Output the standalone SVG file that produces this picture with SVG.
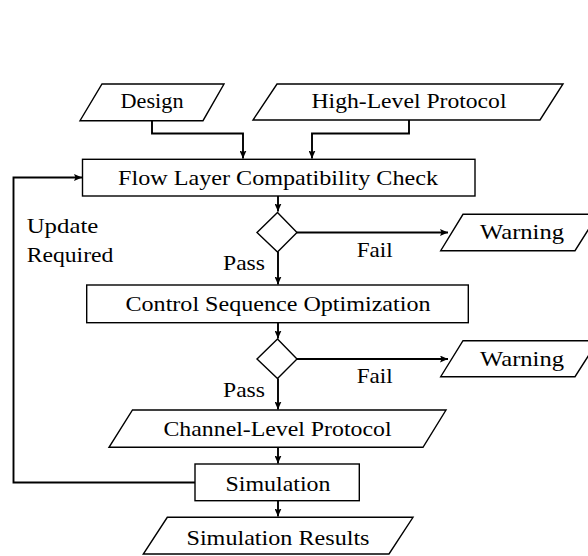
<svg xmlns="http://www.w3.org/2000/svg" width="588" height="556" viewBox="0 0 588 556">
<style>
.shape{fill:#fff;stroke:#000;stroke-width:1.4}
.conn{fill:none;stroke:#000;stroke-width:1.9}
text{font-family:"Liberation Serif","Times New Roman",serif;font-size:22px;fill:#000}
.c{text-anchor:middle}
</style>
<defs>
<marker id="ah" markerUnits="userSpaceOnUse" markerWidth="9" markerHeight="7" refX="8" refY="3.5" orient="auto">
<path d="M0,0 L8,3.5 L0,7 L1.5,3.5 z" fill="#000"/>
</marker>
</defs>
<rect width="588" height="556" fill="#fff"/>
<g id="connectors">
<path class="conn" d="M152,121 V133.5 H243 V158.5" marker-end="url(#ah)"/>
<path class="conn" d="M409,120 V133.5 H312 V158.5" marker-end="url(#ah)"/>
<path class="conn" d="M278,196 V211.5" marker-end="url(#ah)"/>
<path class="conn" d="M278,252 V284.5" marker-end="url(#ah)"/>
<path class="conn" d="M297,232.5 H448" marker-end="url(#ah)"/>
<path class="conn" d="M278,323 V338.5" marker-end="url(#ah)"/>
<path class="conn" d="M278,378.5 V409.5" marker-end="url(#ah)"/>
<path class="conn" d="M297,359 H448" marker-end="url(#ah)"/>
<path class="conn" d="M278,447.5 V463.5" marker-end="url(#ah)"/>
<path class="conn" d="M278,501 V516.5" marker-end="url(#ah)"/>
<path class="conn" d="M195,482.5 H13.5 V177.5 H82" marker-end="url(#ah)"/>
</g>
<g id="labels">
<text class="c" x="374.7" y="256.7" textLength="36" lengthAdjust="spacingAndGlyphs">Fail</text>
<text class="c" x="244" y="270" textLength="42" lengthAdjust="spacingAndGlyphs">Pass</text>
<text class="c" x="374.7" y="383.3" textLength="36" lengthAdjust="spacingAndGlyphs">Fail</text>
<text class="c" x="244" y="397.3" textLength="42" lengthAdjust="spacingAndGlyphs">Pass</text>
<text x="26.7" y="233.3" textLength="71.6" lengthAdjust="spacingAndGlyphs">Update</text>
<text x="26.7" y="261.7" textLength="86.7" lengthAdjust="spacingAndGlyphs">Required</text>
</g>
<g id="design">
<polygon class="shape" points="102,84 224,84 203,120.7 80,120.7"/>
<text class="c" x="152" y="107.5" textLength="63" lengthAdjust="spacingAndGlyphs">Design</text>
</g>
<g id="high-level-protocol">
<polygon class="shape" points="277,84 563,84 540,120 253,120"/>
<text class="c" x="409" y="107.5" textLength="195" lengthAdjust="spacingAndGlyphs">High-Level Protocol</text>
</g>
<g id="flow-check">
<rect class="shape" x="82.5" y="159.3" width="392.5" height="36.7"/>
<text class="c" x="278" y="185" textLength="320" lengthAdjust="spacingAndGlyphs">Flow Layer Compatibility Check</text>
</g>
<g id="decision1">
<polygon class="shape" points="277.5,212.5 297,232.5 277.5,252 257,232.5"/>
</g>
<g id="warning1">
<polygon class="shape" points="463,214.3 598,214.3 575,250.7 440.7,250.7"/>
<text class="c" x="522" y="239.3" textLength="84" lengthAdjust="spacingAndGlyphs">Warning</text>
</g>
<g id="control-opt">
<rect class="shape" x="86.7" y="285" width="381.6" height="37.7"/>
<text class="c" x="278" y="310.5" textLength="305" lengthAdjust="spacingAndGlyphs">Control Sequence Optimization</text>
</g>
<g id="decision2">
<polygon class="shape" points="277.5,339 297,359 277.5,378.5 257,359"/>
</g>
<g id="warning2">
<polygon class="shape" points="463,340.7 598,340.7 575,376.7 440.7,376.7"/>
<text class="c" x="522" y="365.5" textLength="84" lengthAdjust="spacingAndGlyphs">Warning</text>
</g>
<g id="channel-protocol">
<polygon class="shape" points="132.5,410 446,410 423,447.3 109,447.3"/>
<text class="c" x="277.5" y="435.7" textLength="228" lengthAdjust="spacingAndGlyphs">Channel-Level Protocol</text>
</g>
<g id="simulation">
<rect class="shape" x="195" y="464" width="164.3" height="36.7"/>
<text class="c" x="278" y="491" textLength="105" lengthAdjust="spacingAndGlyphs">Simulation</text>
</g>
<g id="simulation-results">
<polygon class="shape" points="167.3,517.3 413,517.3 389,554 143.3,554"/>
<text class="c" x="278" y="545" textLength="183" lengthAdjust="spacingAndGlyphs">Simulation Results</text>
</g>
</svg>
